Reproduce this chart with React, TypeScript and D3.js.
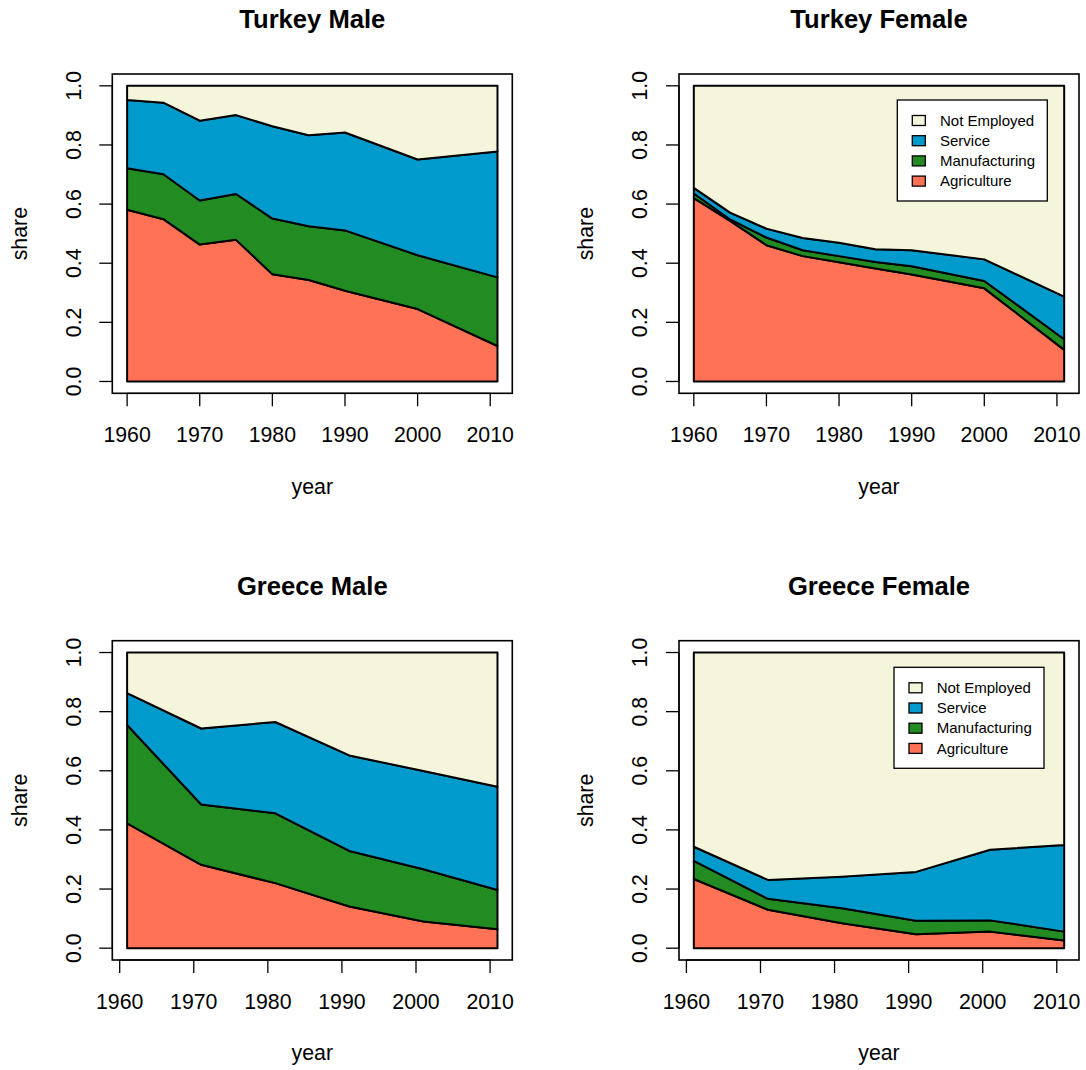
import React from "react";
import * as d3 from "d3";

// ---------- data ----------
const sectors = ["Agriculture", "Manufacturing", "Service", "Not Employed"];
const legendOrder = ["Not Employed", "Service", "Manufacturing", "Agriculture"];
const sectorColors = ["#FF7256", "#228B22", "#009ACD", "#F5F5DC"];

const yearsTurkey = [1960, 1965, 1970, 1975, 1980, 1985, 1990, 2000, 2011];
const yearsGreece = [1961, 1971, 1981, 1991, 2001, 2011];

const turkeyMaleAgri = [0.581, 0.549, 0.463, 0.479, 0.363, 0.343, 0.307, 0.245, 0.12];
const turkeyMaleManu = [0.14, 0.152, 0.149, 0.155, 0.188, 0.182, 0.204, 0.182, 0.232];
const turkeyMaleServ = [0.231, 0.242, 0.27, 0.267, 0.312, 0.308, 0.331, 0.324, 0.426];
const turkeyMaleNot = [0.048, 0.057, 0.118, 0.099, 0.137, 0.167, 0.158, 0.249, 0.222];

const turkeyFemaleAgri = [0.62, 0.543, 0.461, 0.424, 0.403, 0.382, 0.362, 0.315, 0.107];
const turkeyFemaleManu = [0.016, 0.005, 0.026, 0.02, 0.021, 0.022, 0.028, 0.025, 0.036];
const turkeyFemaleServ = [0.019, 0.023, 0.03, 0.041, 0.045, 0.043, 0.054, 0.073, 0.144];
const turkeyFemaleNot = [0.345, 0.429, 0.483, 0.515, 0.531, 0.553, 0.556, 0.587, 0.713];

const greeceMaleAgri = [0.422, 0.282, 0.22, 0.141, 0.09, 0.064];
const greeceMaleManu = [0.333, 0.204, 0.236, 0.188, 0.177, 0.133];
const greeceMaleServ = [0.108, 0.257, 0.309, 0.323, 0.332, 0.349];
const greeceMaleNot = [0.137, 0.257, 0.235, 0.348, 0.401, 0.454];

const greeceFemaleAgri = [0.234, 0.13, 0.084, 0.047, 0.056, 0.026];
const greeceFemaleManu = [0.061, 0.037, 0.051, 0.046, 0.038, 0.03];
const greeceFemaleServ = [0.048, 0.064, 0.107, 0.165, 0.239, 0.293];
const greeceFemaleNot = [0.657, 0.769, 0.758, 0.742, 0.667, 0.651];

const xTicks = [1960, 1970, 1980, 1990, 2000, 2010];
const yTicks = [0, 0.2, 0.4, 0.6, 0.8, 1.0];

const panels = [
  { title: "Turkey Male", years: yearsTurkey, series: [turkeyMaleAgri, turkeyMaleManu, turkeyMaleServ, turkeyMaleNot], legend: null },
  { title: "Turkey Female", years: yearsTurkey, series: [turkeyFemaleAgri, turkeyFemaleManu, turkeyFemaleServ, turkeyFemaleNot], legend: { x: 330.6, y: 100 } },
  { title: "Greece Male", years: yearsGreece, series: [greeceMaleAgri, greeceMaleManu, greeceMaleServ, greeceMaleNot], legend: null },
  { title: "Greece Female", years: yearsGreece, series: [greeceFemaleAgri, greeceFemaleManu, greeceFemaleServ, greeceFemaleNot], legend: { x: 327.3, y: 100.6 } },
];

// ---------- layout ----------
const W = 1086;
const H = 1070;
const PANEL_STEP = 566.7;
const BOX = { left: 112.3, right: 512.3, top: 74, bottom: 393.3 };
const FONT = "'Liberation Sans', Arial, Helvetica, sans-serif";
const AXIS_FS = 21.3;
const TITLE_FS = 25.6;
const LEGEND_FS = 15;

function Panel({ p, ox, oy }: any) {
  const n = p.years.length;
  const x0 = p.years[0];
  const x1 = p.years[n - 1];
  const padX = (x1 - x0) * 0.04;
  const x = d3.scaleLinear().domain([x0 - padX, x1 + padX]).range([BOX.left, BOX.right]);
  const y = d3.scaleLinear().domain([-0.04, 1.04]).range([BOX.bottom, BOX.top]);

  const rows = p.years.map((yr: number, i: number) => {
    const r: any = { year: yr };
    sectors.forEach((s, k) => (r[s] = p.series[k][i]));
    return r;
  });
  const stacked = d3.stack().keys(sectors)(rows);
  const area = d3
    .area<any>()
    .x((d) => x(d.data.year))
    .y0((d) => y(d[0]))
    .y1((d) => y(d[1]));

  const cx = (BOX.left + BOX.right) / 2;
  const cy = (BOX.top + BOX.bottom) / 2;
  const tickLen = 13;

  return (
    <g transform={`translate(${ox},${oy})`} fontFamily={FONT}>
      {stacked.map((layer, k) => (
        <path
          key={k}
          d={area(layer as any) || ""}
          fill={sectorColors[k]}
          stroke="#000"
          strokeWidth={2}
          strokeLinejoin="round"
        />
      ))}
      <rect
        x={BOX.left}
        y={BOX.top}
        width={BOX.right - BOX.left}
        height={BOX.bottom - BOX.top}
        fill="none"
        stroke="#000"
        strokeWidth={1.6}
      />
      {/* x axis */}
      <line x1={x(xTicks[0])} x2={x(xTicks[xTicks.length - 1])} y1={BOX.bottom} y2={BOX.bottom} stroke="#000" strokeWidth={1.3} />
      {xTicks.map((t) => (
        <g key={t}>
          <line x1={x(t)} x2={x(t)} y1={BOX.bottom} y2={BOX.bottom + tickLen} stroke="#000" strokeWidth={1.3} />
          <text x={x(t)} y={442} fontSize={AXIS_FS} textAnchor="middle">
            {t}
          </text>
        </g>
      ))}
      {/* y axis */}
      <line x1={BOX.left} x2={BOX.left} y1={y(0)} y2={y(1)} stroke="#000" strokeWidth={1.3} />
      {yTicks.map((t) => (
        <g key={t}>
          <line x1={BOX.left - tickLen} x2={BOX.left} y1={y(t)} y2={y(t)} stroke="#000" strokeWidth={1.3} />
          <text
            transform={`translate(80.7,${y(t)}) rotate(-90)`}
            fontSize={AXIS_FS}
            textAnchor="middle"
          >
            {t.toFixed(1)}
          </text>
        </g>
      ))}
      <text x={cx} y={493.5} fontSize={AXIS_FS} textAnchor="middle">
        year
      </text>
      <text transform={`translate(26.7,${cy}) rotate(-90)`} fontSize={AXIS_FS} textAnchor="middle">
        share
      </text>
      <text x={cx} y={28.3} fontSize={TITLE_FS} fontWeight="bold" textAnchor="middle">
        {p.title}
      </text>
      {p.legend && (
        <g transform={`translate(${p.legend.x},${p.legend.y})`}>
          <rect x={0} y={0} width={150} height={101} fill="#fff" stroke="#000" strokeWidth={1.3} />
          {legendOrder.map((name, i) => {
            const ry = 20.5 + i * 20.2;
            const k = sectors.indexOf(name);
            return (
              <g key={name}>
                <rect x={15} y={ry - 5} width={13} height={10} fill={sectorColors[k]} stroke="#000" strokeWidth={1.3} />
                <text x={42.7} y={ry + 5.3} fontSize={LEGEND_FS}>
                  {name}
                </text>
              </g>
            );
          })}
        </g>
      )}
    </g>
  );
}

export default function App() {
  return (
    <svg
      width={W}
      height={H}
      viewBox={`0 0 ${W} ${H}`}
      style={{ position: "absolute", left: 0, top: 0, background: "#fff" }}
    >
      <rect x={0} y={0} width={W} height={H} fill="#fff" />
      {panels.map((p, i) => (
        <Panel key={p.title} p={p} ox={(i % 2) * PANEL_STEP} oy={Math.floor(i / 2) * PANEL_STEP} />
      ))}
    </svg>
  );
}
